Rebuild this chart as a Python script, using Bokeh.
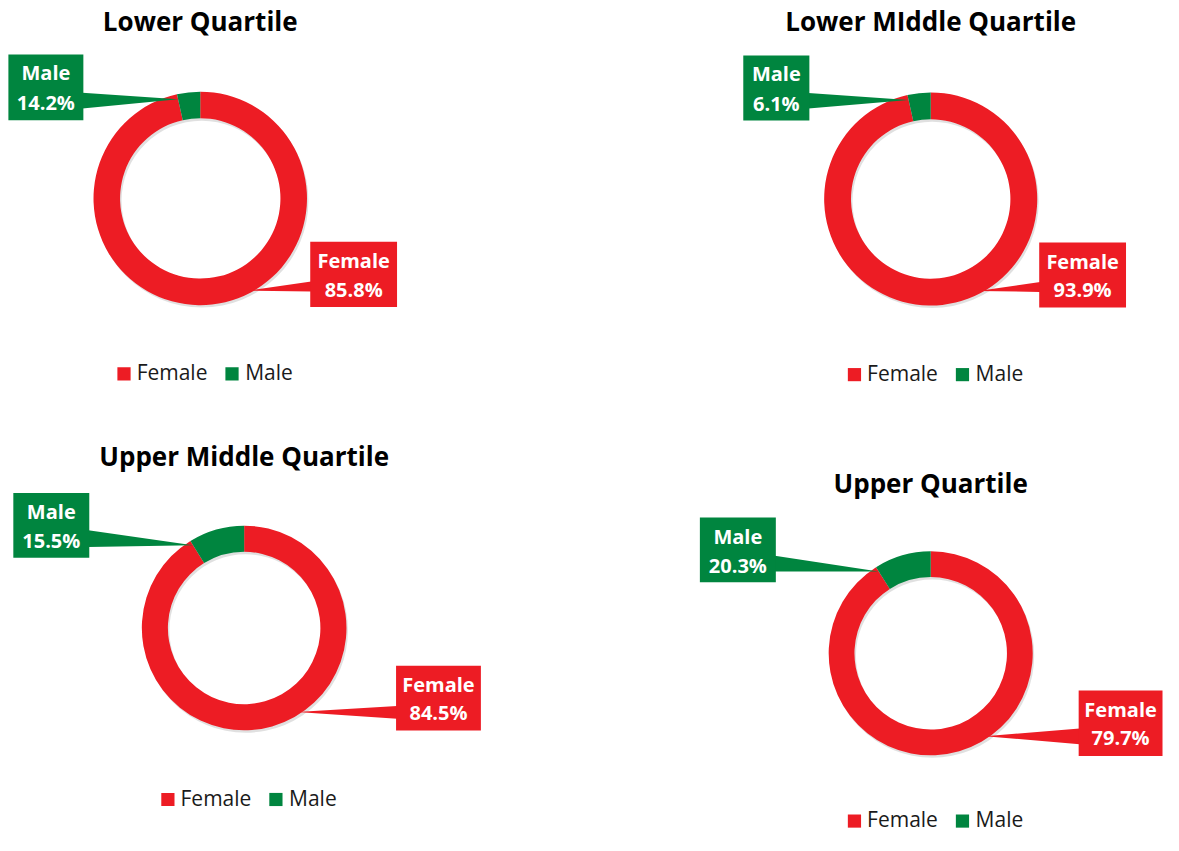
import math
from bokeh.plotting import figure
from bokeh.models import Range1d
from bokeh.embed import file_html
from bokeh.resources import INLINE
from bokeh.core.properties import value

# ---------------- data ----------------
titles = ["Lower Quartile", "Lower MIddle Quartile", "Upper Middle Quartile", "Upper Quartile"]
categories = ["Female", "Male"]
# percentages printed in the data labels
female_label_pct = [85.8, 93.9, 84.5, 79.7]
male_label_pct = [14.2, 6.1, 15.5, 20.3]
# share of the ring drawn as each slice
male_ring_pct = [3.5, 3.5, 8.8, 9.0]
female_ring_pct = [96.5, 96.5, 91.2, 91.0]

# ---------------- style ----------------
RED = "#ED1C24"
GREEN = "#00853F"
FONT = value("Open Sans")
TITLE_PX = 26
LABEL_PX = 20
LEGEND_PX = 21
MID = 0.39  # distance from text middle to alphabetic baseline, in em

# ---------------- layout (reference pixel coords, y down) ----------------
centers = [(202.5, 201.7), (943.0, 202.3), (247.0, 639.5), (943.0, 665.3)]
outer_r = [108.5, 108.3, 104.0, 103.7]
inner_r = [81.5, 81.0, 77.5, 77.5]
title_baseline = [30.7, 31.7, 475.0, 501.7]
male_box = [(8, 84, 55, 122), (753, 820, 56, 122.3), (13, 90, 502, 568), (709, 786, 527, 593)]
female_box = [(314, 402, 246, 312.3), (1053, 1141, 246.7, 313), (401, 487, 678, 744), (1093, 1178, 703.3, 770)]
male_ptr_base = [(94, 110), (94.3, 110), (540, 557), (566, 582)]
female_ptr_base = [(286.5, 296.5), (287, 297), (719, 732), (742, 758)]
female_tip_deg = [153, 153, 148, 147]
legend_base = [387.3, 388.0, 821.0, 843.0]

REF_W, REF_H = 1179, 851
W, H = 1163, 835
K = (W / REF_W + H / REF_H) / 2


def Y(y):
    return REF_H - y


def YT(baseline, px):
    # y of the text middle for a given alphabetic baseline
    return Y(baseline - MID * px / K)


p = figure(width=W, height=H, x_range=Range1d(0, REF_W), y_range=Range1d(0, REF_H),
           output_backend="svg", toolbar_location=None, min_border=0)
p.axis.visible = False
p.grid.visible = False
p.outline_line_color = None
p.background_fill_color = "white"
p.border_fill_color = "white"

for i in range(4):
    cx, cy = centers[i]
    ro, ri = outer_r[i] * K, inner_r[i] * K
    male_frac = male_ring_pct[i] / 100.0
    female_frac = female_ring_pct[i] / 100.0

    # soft shadow
    p.annulus(x=[cx + 1.5], y=[Y(cy + 2.5)], inner_radius=ri, outer_radius=ro,
              inner_radius_units="screen", outer_radius_units="screen",
              fill_color="black", fill_alpha=0.12, line_color=None)

    a0 = math.pi / 2
    a1 = a0 + male_frac * 2 * math.pi
    a2 = a1 + female_frac * 2 * math.pi
    p.annular_wedge(x=[cx, cx], y=[Y(cy), Y(cy)], inner_radius=ri, outer_radius=ro,
                    inner_radius_units="screen", outer_radius_units="screen",
                    start_angle=[a1, a0], end_angle=[a2, a1], direction="anticlock",
                    fill_color=[RED, GREEN], line_color=None)

    # title
    p.text(x=[cx], y=[YT(title_baseline[i], TITLE_PX)], text=[titles[i]], text_align="center",
           text_baseline="middle", text_font=FONT, text_font_style="bold",
           text_font_size=f"{TITLE_PX}px", text_color="black")

    # male callout
    theta = male_frac * 2 * math.pi
    rt = outer_r[i] - 5
    tip_x = cx - rt * math.sin(theta)
    tip_y = cy - rt * math.cos(theta)
    l, r, t, b = male_box[i]
    y1, y2 = male_ptr_base[i]
    p.patches(xs=[[r - 1, r - 1, tip_x]], ys=[[Y(y1), Y(y2), Y(tip_y)]],
              fill_color=GREEN, line_color=None)
    p.quad(left=[l], right=[r], top=[Y(t)], bottom=[Y(b)], fill_color=GREEN, line_color=None)
    mx = (l + r) / 2
    p.text(x=[mx, mx], y=[YT(t + 26.7, LABEL_PX), YT(t + 56.5, LABEL_PX)],
           text=[categories[1], f"{male_label_pct[i]:.1f}%"], text_align="center",
           text_baseline="middle", text_font=FONT, text_font_style="bold",
           text_font_size=f"{LABEL_PX}px", text_color="white")

    # female callout
    phi = math.radians(female_tip_deg[i])
    rt = outer_r[i] - 3
    tip_x = cx + rt * math.sin(phi)
    tip_y = cy - rt * math.cos(phi)
    l, r, t, b = female_box[i]
    y1, y2 = female_ptr_base[i]
    p.patches(xs=[[l + 1, l + 1, tip_x]], ys=[[Y(y1), Y(y2), Y(tip_y)]],
              fill_color=RED, line_color=None)
    p.quad(left=[l], right=[r], top=[Y(t)], bottom=[Y(b)], fill_color=RED, line_color=None)
    fx = (l + r) / 2
    p.text(x=[fx, fx], y=[YT(t + 27.3, LABEL_PX), YT(t + 56.0, LABEL_PX)],
           text=[categories[0], f"{female_label_pct[i]:.1f}%"], text_align="center",
           text_baseline="middle", text_font=FONT, text_font_style="bold",
           text_font_size=f"{LABEL_PX}px", text_color="white")

    # legend
    lb = legend_base[i]
    sq = 13.4
    x0 = cx - 84
    p.quad(left=[x0, x0 + 109.5], right=[x0 + sq, x0 + 109.5 + sq],
           top=[Y(lb - sq), Y(lb - sq)], bottom=[Y(lb), Y(lb)],
           fill_color=[RED, GREEN], line_color=None)
    p.text(x=[x0 + 19.5, x0 + 129.5], y=[YT(lb, LEGEND_PX), YT(lb, LEGEND_PX)], text=categories,
           text_align="left", text_baseline="middle", text_font=FONT,
           text_font_size=f"{LEGEND_PX}px", text_color="#1a1a1a")

open("out.html", "w").write(file_html(p, INLINE))
